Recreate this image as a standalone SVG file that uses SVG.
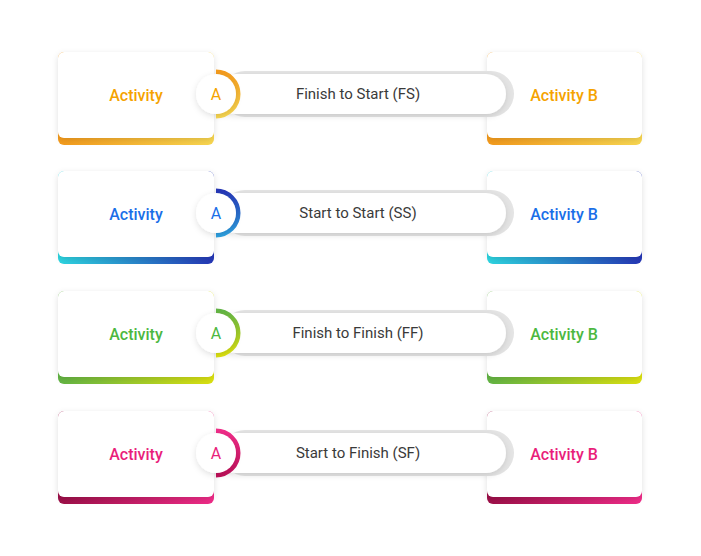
<svg xmlns="http://www.w3.org/2000/svg" width="701" height="556" viewBox="0 0 701 556">
<defs>
<filter id="sh" x="-20%" y="-20%" width="140%" height="150%"><feDropShadow dx="0" dy="2" stdDeviation="3" flood-color="#000" flood-opacity="0.12"/></filter>
<linearGradient id="g1"><stop offset="0" stop-color="#F39A1C"/><stop offset="1" stop-color="#F8D650"/></linearGradient>
<linearGradient id="g2"><stop offset="0" stop-color="#2DD5E0"/><stop offset="1" stop-color="#2536B5"/></linearGradient>
<linearGradient id="g3"><stop offset="0" stop-color="#62B444"/><stop offset="1" stop-color="#DCE10F"/></linearGradient>
<linearGradient id="g4"><stop offset="0" stop-color="#9C0F48"/><stop offset="1" stop-color="#EF2C88"/></linearGradient>
<linearGradient id="a1" x1="0" y1="0" x2="0" y2="1"><stop offset="0" stop-color="#F39A1C"/><stop offset="1" stop-color="#F8D650"/></linearGradient>
<linearGradient id="a2" x1="0" y1="0" x2="0" y2="1"><stop offset="0" stop-color="#2536B5"/><stop offset="1" stop-color="#2DA0E0"/></linearGradient>
<linearGradient id="a3" x1="0" y1="0" x2="0" y2="1"><stop offset="0" stop-color="#62B444"/><stop offset="1" stop-color="#DCE10F"/></linearGradient>
<linearGradient id="a4" x1="0" y1="0" x2="0" y2="1"><stop offset="0" stop-color="#EF2C88"/><stop offset="1" stop-color="#C0105A"/></linearGradient>
</defs>
<style>
text{font-family:Roboto,"Liberation Sans",sans-serif;text-anchor:middle;dominant-baseline:central}
.n{font-size:16px;font-weight:500}
.l{font-size:15px;fill:#3a3a3a}
.a{font-size:16px}
.gp{fill:#e4e4e4}
.wp{fill:#fff}
</style>
<g id="row1" transform="translate(0,94)">
<rect x="58" y="-42" width="156" height="93" rx="6" fill="url(#g1)"/><rect x="58" y="-42" width="156" height="86" rx="6" fill="#fff" filter="url(#sh)"/>
<rect x="487" y="-42" width="155" height="93" rx="6" fill="url(#g1)"/><rect x="487" y="-42" width="155" height="86" rx="6" fill="#fff" filter="url(#sh)"/>
<rect class="gp" x="222" y="-23" width="292" height="46" rx="23"/><rect class="wp" x="216" y="-20" width="290" height="40" rx="20" filter="url(#sh)"/>
<path d="M216,-22 A22,22 0 0 1 216,22" fill="none" stroke="url(#a1)" stroke-width="5"/>
<circle cx="216" cy="0" r="20" fill="#fff" filter="url(#sh)"/>
<text x="136" y="1" class="n" fill="#F5A300">Activity</text><text x="216" y="0" class="a" fill="#F5A300">A</text>
<text x="358" y="0" class="l">Finish to Start (FS)</text><text x="564" y="1" class="n" fill="#F5A300">Activity B</text>
</g>
<g id="row2" transform="translate(0,213)">
<rect x="58" y="-42" width="156" height="93" rx="6" fill="url(#g2)"/><rect x="58" y="-42" width="156" height="86" rx="6" fill="#fff" filter="url(#sh)"/>
<rect x="487" y="-42" width="155" height="93" rx="6" fill="url(#g2)"/><rect x="487" y="-42" width="155" height="86" rx="6" fill="#fff" filter="url(#sh)"/>
<rect class="gp" x="222" y="-23" width="292" height="46" rx="23"/><rect class="wp" x="216" y="-20" width="290" height="40" rx="20" filter="url(#sh)"/>
<path d="M216,-22 A22,22 0 0 1 216,22" fill="none" stroke="url(#a2)" stroke-width="5"/>
<circle cx="216" cy="0" r="20" fill="#fff" filter="url(#sh)"/>
<text x="136" y="1" class="n" fill="#1A6FE8">Activity</text><text x="216" y="0" class="a" fill="#1A6FE8">A</text>
<text x="358" y="0" class="l">Start to Start (SS)</text><text x="564" y="1" class="n" fill="#1A6FE8">Activity B</text>
</g>
<g id="row3" transform="translate(0,333)">
<rect x="58" y="-42" width="156" height="93" rx="6" fill="url(#g3)"/><rect x="58" y="-42" width="156" height="86" rx="6" fill="#fff" filter="url(#sh)"/>
<rect x="487" y="-42" width="155" height="93" rx="6" fill="url(#g3)"/><rect x="487" y="-42" width="155" height="86" rx="6" fill="#fff" filter="url(#sh)"/>
<rect class="gp" x="222" y="-23" width="292" height="46" rx="23"/><rect class="wp" x="216" y="-20" width="290" height="40" rx="20" filter="url(#sh)"/>
<path d="M216,-22 A22,22 0 0 1 216,22" fill="none" stroke="url(#a3)" stroke-width="5"/>
<circle cx="216" cy="0" r="20" fill="#fff" filter="url(#sh)"/>
<text x="136" y="1" class="n" fill="#4CB840">Activity</text><text x="216" y="0" class="a" fill="#4CB840">A</text>
<text x="358" y="0" class="l">Finish to Finish (FF)</text><text x="564" y="1" class="n" fill="#4CB840">Activity B</text>
</g>
<g id="row4" transform="translate(0,453)">
<rect x="58" y="-42" width="156" height="93" rx="6" fill="url(#g4)"/><rect x="58" y="-42" width="156" height="86" rx="6" fill="#fff" filter="url(#sh)"/>
<rect x="487" y="-42" width="155" height="93" rx="6" fill="url(#g4)"/><rect x="487" y="-42" width="155" height="86" rx="6" fill="#fff" filter="url(#sh)"/>
<rect class="gp" x="222" y="-23" width="292" height="46" rx="23"/><rect class="wp" x="216" y="-20" width="290" height="40" rx="20" filter="url(#sh)"/>
<path d="M216,-22 A22,22 0 0 1 216,22" fill="none" stroke="url(#a4)" stroke-width="5"/>
<circle cx="216" cy="0" r="20" fill="#fff" filter="url(#sh)"/>
<text x="136" y="1" class="n" fill="#E91E7A">Activity</text><text x="216" y="0" class="a" fill="#E91E7A">A</text>
<text x="358" y="0" class="l">Start to Finish (SF)</text><text x="564" y="1" class="n" fill="#E91E7A">Activity B</text>
</g>
<g id="connectors"/>
</svg>
